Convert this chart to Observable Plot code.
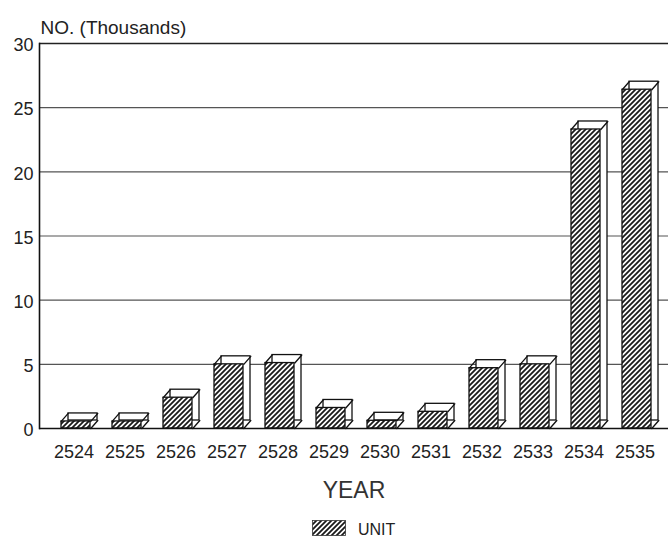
<!DOCTYPE html>
<html>
<head>
<meta charset="utf-8">
<script src="https://cdn.jsdelivr.net/npm/d3@7"></script>
<script src="https://cdn.jsdelivr.net/npm/@observablehq/plot@0.6"></script>
<style>
  html, body { margin: 0; padding: 0; background: #fff; }
  #wrap { position: relative; width: 668px; height: 542px; overflow: hidden; font-family: "Liberation Sans", Arial, sans-serif; color: #222; }
  #legend { position: absolute; left: 0; top: 505px; width: 668px; height: 37px; }
  #legend svg { position: absolute; left: 312px; top: 15px; }
  #legend span { position: absolute; left: 358px; top: 17px; font-size: 16px; line-height: 16px; }
</style>
</head>
<body>
<div id="wrap"><div id="chart"></div><div id="legend"></div></div>
<script>
const years = ["2524","2525","2526","2527","2528","2529","2530","2531","2532","2533","2534","2535"];
const units = [0.55, 0.55, 2.4, 5.0, 5.1, 1.6, 0.6, 1.3, 4.7, 5.0, 23.3, 26.4];
const yTicks = [0, 5, 10, 15, 20, 25, 30];
const gridTicks = [5, 10, 15, 20, 25];
const yTitle = "NO. (Thousands)";
const xTitle = "YEAR";
const seriesName = "UNIT";

const data = years.map((year, i) => ({year, value: units[i]}));

const depthX = 7, depthY = 8, halfBar = 14.8;
const diag = Math.hypot(depthX, depthY);
const diagAngle = Math.atan2(depthX, depthY) * 180 / Math.PI;
const lineShape = {draw(context, l) { context.moveTo(0, 0); context.lineTo(0, -l); }};

const plot = Plot.plot({
  width: 668,
  height: 505,
  marginTop: 43,
  marginBottom: 77,
  marginLeft: 39,
  marginRight: 0,
  style: {fontFamily: "'Liberation Sans', Arial, sans-serif", background: "transparent", color: "#222"},
  x: {domain: years, insetLeft: 6, insetRight: 1, paddingInner: 0.43, paddingOuter: 0.215, label: null},
  y: {domain: [0, 30], ticks: yTicks, label: null},
  marks: [
    Plot.ruleY(gridTicks, {stroke: "#555", strokeWidth: 1.2}),
    Plot.ruleY([30], {stroke: "#222", strokeWidth: 1.5}),
    Plot.barY(data, {x: "year", y: "value", fill: "#fff", stroke: "#111", strokeWidth: 1.3, dx: depthX, dy: -depthY}),
    Plot.barY(data, {x: "year", y: "value", fill: "url(#hatch)", stroke: "#111", strokeWidth: 1.3}),
    Plot.vector(data, {x: "year", y: "value", length: diag, rotate: diagAngle, anchor: "start", shape: lineShape, stroke: "#111", strokeWidth: 1.3, dx: -halfBar}),
    Plot.vector(data, {x: "year", y: "value", length: diag, rotate: diagAngle, anchor: "start", shape: lineShape, stroke: "#111", strokeWidth: 1.3, dx: halfBar}),
    Plot.vector(data, {x: "year", y: 0, length: diag, rotate: diagAngle, anchor: "start", shape: lineShape, stroke: "#111", strokeWidth: 1.3, dx: halfBar}),
    Plot.ruleY([0], {stroke: "#111", strokeWidth: 1.6}),
    Plot.frame({anchor: "left", stroke: "#111", strokeWidth: 1.6}),
    Plot.axisY({ticks: yTicks, tickSize: 0, tickPadding: 6, fontSize: 18, dy: 2, label: null}),
    Plot.axisX({tickSize: 0, tickPadding: 17, fontSize: 18, dx: -2, label: null}),
    Plot.text([yTitle], {frameAnchor: "top-left", dx: 1, dy: -10, lineAnchor: "bottom", textAnchor: "start", fontSize: 19, fill: "#222"}),
    Plot.text([xTitle], {frameAnchor: "bottom", dy: 69, lineAnchor: "bottom", fontSize: 23, fill: "#333"})
  ]
});

function addHatch(svg, id) {
  const ns = "http://www.w3.org/2000/svg";
  const defs = document.createElementNS(ns, "defs");
  const pat = document.createElementNS(ns, "pattern");
  pat.setAttribute("id", id);
  pat.setAttribute("patternUnits", "userSpaceOnUse");
  pat.setAttribute("width", "5");
  pat.setAttribute("height", "5");
  const bg = document.createElementNS(ns, "rect");
  bg.setAttribute("width", "5"); bg.setAttribute("height", "5"); bg.setAttribute("fill", "#fff");
  const p = document.createElementNS(ns, "path");
  p.setAttribute("d", "M0,5 L5,0 M-1,1 L1,-1 M4,6 L6,4");
  p.setAttribute("stroke", "#1a1a1a");
  p.setAttribute("stroke-width", "1.8");
  pat.appendChild(bg); pat.appendChild(p);
  defs.appendChild(pat);
  svg.insertBefore(defs, svg.firstChild);
}
addHatch(plot, "hatch");
document.getElementById("chart").appendChild(plot);

// legend
const ns = "http://www.w3.org/2000/svg";
const lsvg = document.createElementNS(ns, "svg");
lsvg.setAttribute("width", "34"); lsvg.setAttribute("height", "16");
addHatch(lsvg, "hatchLegend");
const lr = document.createElementNS(ns, "rect");
lr.setAttribute("x", "0.5"); lr.setAttribute("y", "0.5"); lr.setAttribute("width", "33"); lr.setAttribute("height", "15");
lr.setAttribute("fill", "url(#hatchLegend)"); lr.setAttribute("stroke", "#333"); lr.setAttribute("stroke-width", "0.8");
lsvg.appendChild(lr);
const legend = document.getElementById("legend");
legend.appendChild(lsvg);
const lt = document.createElement("span");
lt.textContent = seriesName;
legend.appendChild(lt);
</script>
</body>
</html>
